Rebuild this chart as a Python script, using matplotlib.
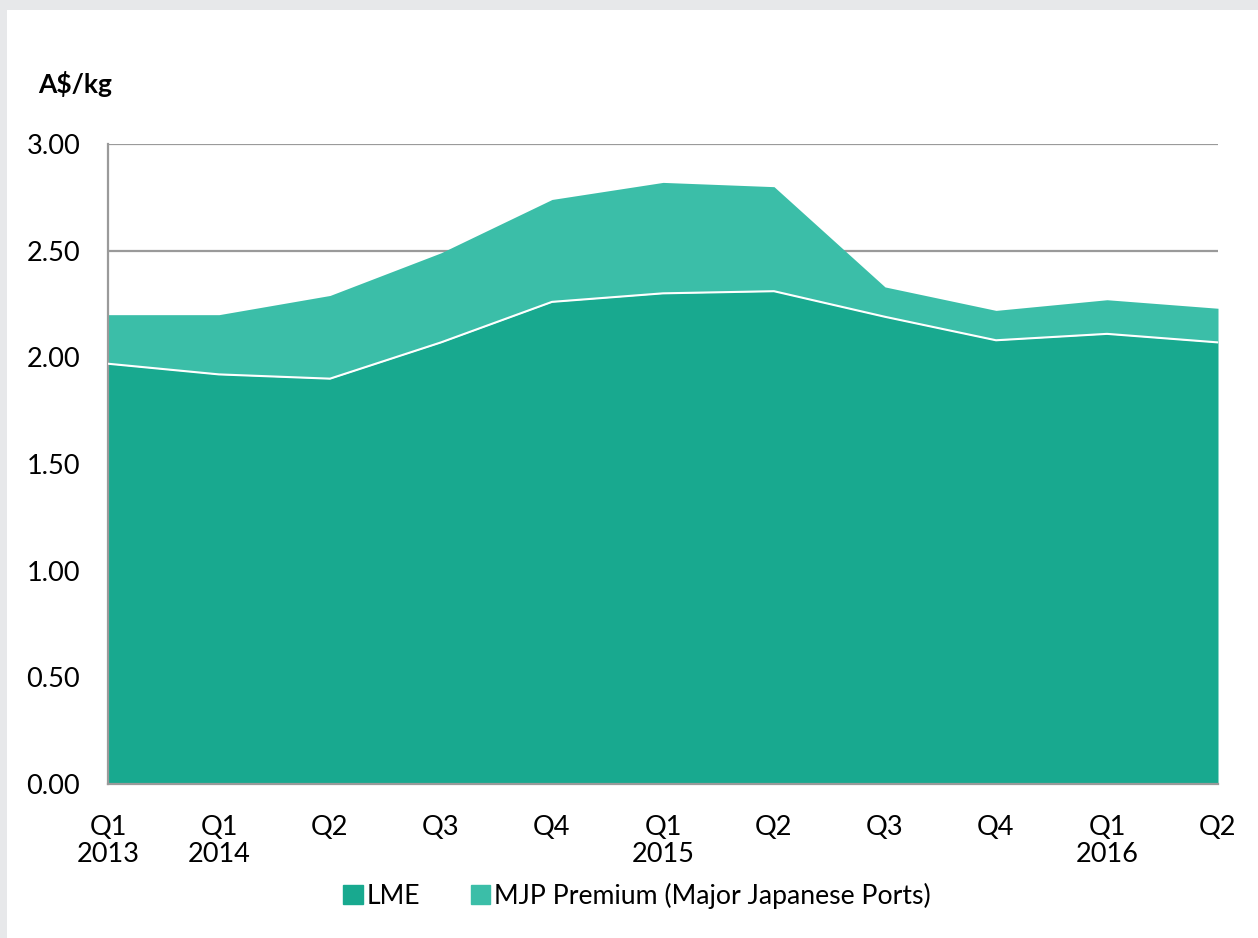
import matplotlib.pyplot as plt
from matplotlib.patches import Rectangle, Patch

# quarterly aluminium price components, A$/kg
quarters = ['Q1\n2013', 'Q1\n2014', 'Q2', 'Q3', 'Q4', 'Q1\n2015', 'Q2', 'Q3', 'Q4', 'Q1\n2016', 'Q2']
lme = [1.97, 1.92, 1.90, 2.07, 2.26, 2.30, 2.31, 2.19, 2.08, 2.11, 2.07]
mjp_premium = [0.23, 0.28, 0.39, 0.42, 0.48, 0.52, 0.49, 0.14, 0.14, 0.16, 0.16]

lme_color = '#18A98F'
mjp_color = '#3BBEA8'

plt.rcParams['font.family'] = ['Lato', 'DejaVu Sans']

fig = plt.figure(figsize=(12.58, 9.38), dpi=100)
fig.patch.set_facecolor('#E7E8EA')
# white panel inside the grey frame
fig.patches.append(Rectangle((7 / 1258, 0), 1, 1 - 10 / 938, transform=fig.transFigure,
                             facecolor='white', edgecolor='none', zorder=-10))

ax = fig.add_axes([108 / 1258, 1 - 784 / 938, 1110 / 1258, 640 / 938])
ax.set_facecolor('none')

x = list(range(len(quarters)))
total = [a + b for a, b in zip(lme, mjp_premium)]
ax.fill_between(x, 0, lme, color=lme_color, linewidth=0, zorder=2)
ax.fill_between(x, lme, total, color=mjp_color, linewidth=0, zorder=2)
ax.plot(x, lme, color='white', linewidth=1.5, zorder=3)

ax.set_xlim(0, len(quarters) - 1)
ax.set_ylim(0, 3)
ax.set_yticks([0, 0.5, 1, 1.5, 2, 2.5, 3])
ax.set_yticklabels([f'{v:.2f}' for v in ax.get_yticks()])
ax.set_xticks(x)
ax.set_xticklabels(quarters, linespacing=1.12)
ax.tick_params(axis='both', length=0, labelsize=19.5, colors='black')
ax.tick_params(axis='y', pad=20)
ax.tick_params(axis='x', pad=22)

ax.yaxis.grid(True, color='#9A9A9A', linewidth=1.6, zorder=1)
ax.set_axisbelow(True)
for side in ['top', 'right']:
    ax.spines[side].set_visible(False)
for side in ['left', 'bottom']:
    ax.spines[side].set_color('#9A9A9A')
    ax.spines[side].set_linewidth(1.6)

fig.text(38 / 1258, 1 - 84 / 938, 'A$/kg', fontsize=19, fontweight='bold', va='center', ha='left')

handles = [Patch(color=lme_color), Patch(color=mjp_color)]
fig.legend(handles, ['LME', 'MJP Premium (Major Japanese Ports)'], loc='center',
           bbox_to_anchor=(637 / 1258, 1 - 896 / 938), ncol=2, frameon=False,
           fontsize=19.2, handlelength=0.72, handleheight=0.72, handletextpad=0.15,
           columnspacing=1.9)

plt.savefig('out.png', dpi=100, facecolor=fig.get_facecolor())
